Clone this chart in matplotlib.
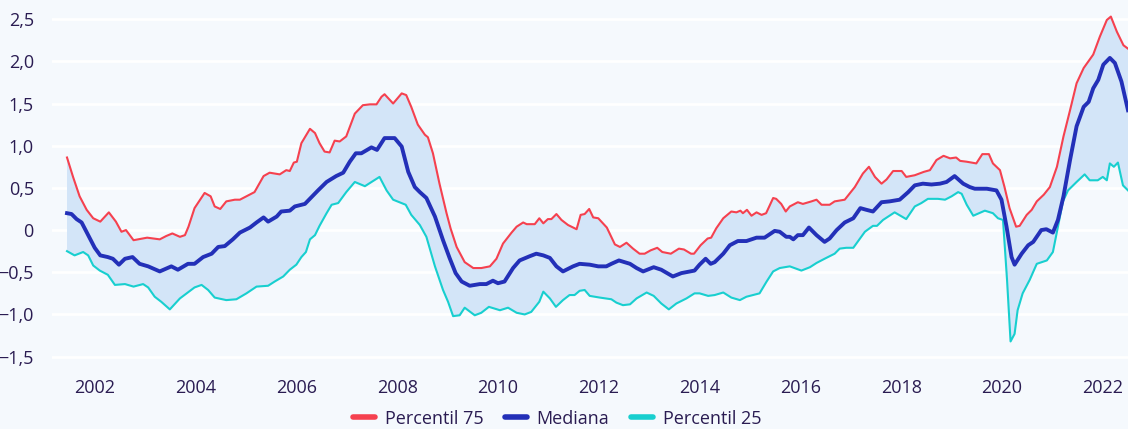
import matplotlib
matplotlib.use("Agg")
import matplotlib.pyplot as plt
import numpy as np

# time in decimal years
p75_t = [2001.45, 2001.57, 2001.70, 2001.84, 2001.97, 2002.11, 2002.28, 2002.42, 2002.53, 2002.62,
         2002.77, 2003.04, 2003.29, 2003.42, 2003.54, 2003.69, 2003.79, 2003.86, 2003.98, 2004.18,
         2004.30, 2004.38, 2004.49, 2004.61, 2004.78, 2004.88, 2005.01, 2005.17, 2005.35, 2005.47,
         2005.67, 2005.80, 2005.87, 2005.95, 2006.01, 2006.10, 2006.27, 2006.37, 2006.46, 2006.56,
         2006.66, 2006.76, 2006.86, 2006.99, 2007.16, 2007.32, 2007.46, 2007.59, 2007.69, 2007.75,
         2007.92, 2008.09, 2008.18, 2008.28, 2008.41, 2008.55, 2008.61, 2008.71, 2008.84, 2008.98,
         2009.06, 2009.18, 2009.34, 2009.51, 2009.67, 2009.84, 2009.97, 2010.10, 2010.27, 2010.37,
         2010.50, 2010.57, 2010.73, 2010.82, 2010.90, 2010.99, 2011.06, 2011.16, 2011.26, 2011.39,
         2011.56, 2011.64, 2011.72, 2011.81, 2011.89, 2011.99, 2012.16, 2012.32, 2012.42, 2012.55,
         2012.68, 2012.81, 2012.91, 2013.03, 2013.16, 2013.26, 2013.43, 2013.59, 2013.69, 2013.83,
         2013.89, 2014.02, 2014.16, 2014.23, 2014.33, 2014.47, 2014.63, 2014.73, 2014.81, 2014.86,
         2014.94, 2015.03, 2015.13, 2015.23, 2015.32, 2015.46, 2015.52, 2015.62, 2015.71, 2015.79,
         2015.95, 2016.05, 2016.22, 2016.32, 2016.42, 2016.58, 2016.68, 2016.88, 2017.08, 2017.24,
         2017.36, 2017.48, 2017.61, 2017.71, 2017.84, 2018.01, 2018.10, 2018.27, 2018.45, 2018.57,
         2018.70, 2018.84, 2018.97, 2019.09, 2019.17, 2019.30, 2019.49, 2019.61, 2019.74, 2019.82,
         2019.96, 2020.05, 2020.15, 2020.28, 2020.35, 2020.49, 2020.59, 2020.69, 2020.83, 2020.95,
         2021.09, 2021.22, 2021.35, 2021.48, 2021.62, 2021.81, 2021.94, 2022.08, 2022.16, 2022.28,
         2022.41, 2022.50]
p75 = [0.86, 0.63, 0.40, 0.24, 0.14, 0.10, 0.21, 0.10, -0.02, 0.00,
       -0.12, -0.09, -0.11, -0.07, -0.04, -0.08, -0.06, 0.04, 0.26, 0.44,
       0.40, 0.28, 0.25, 0.34, 0.36, 0.36, 0.40, 0.45, 0.64, 0.68,
       0.66, 0.71, 0.70, 0.80, 0.81, 1.03, 1.20, 1.15, 1.03, 0.93,
       0.92, 1.06, 1.05, 1.11, 1.38, 1.48, 1.49, 1.49, 1.58, 1.61,
       1.50, 1.62, 1.60, 1.46, 1.25, 1.13, 1.10, 0.91, 0.55, 0.20,
       0.02, -0.20, -0.38, -0.45, -0.45, -0.43, -0.34, -0.16, -0.03, 0.04,
       0.09, 0.07, 0.07, 0.14, 0.08, 0.13, 0.13, 0.19, 0.12, 0.06,
       0.01, 0.18, 0.19, 0.25, 0.15, 0.14, 0.03, -0.17, -0.20, -0.15,
       -0.22, -0.28, -0.28, -0.24, -0.21, -0.26, -0.28, -0.22, -0.23, -0.28,
       -0.28, -0.18, -0.10, -0.09, 0.02, 0.14, 0.22, 0.21, 0.23, 0.20,
       0.24, 0.17, 0.21, 0.18, 0.20, 0.38, 0.37, 0.31, 0.22, 0.28,
       0.33, 0.31, 0.34, 0.36, 0.30, 0.30, 0.34, 0.36, 0.51, 0.67,
       0.75, 0.63, 0.55, 0.60, 0.70, 0.70, 0.63, 0.65, 0.69, 0.71,
       0.83, 0.88, 0.85, 0.86, 0.82, 0.81, 0.79, 0.90, 0.90, 0.79,
       0.71, 0.51, 0.26, 0.04, 0.05, 0.18, 0.24, 0.34, 0.42, 0.51,
       0.75, 1.11, 1.42, 1.74, 1.92, 2.08, 2.29, 2.49, 2.53, 2.35,
       2.19, 2.15]

med_t = [2001.45, 2001.54, 2001.64, 2001.74, 2001.87, 2002.00, 2002.11, 2002.26, 2002.36, 2002.48,
         2002.60, 2002.75, 2002.89, 2003.06, 2003.29, 2003.52, 2003.65, 2003.85, 2003.98, 2004.15,
         2004.32, 2004.45, 2004.58, 2004.74, 2004.88, 2005.08, 2005.21, 2005.35, 2005.44, 2005.61,
         2005.70, 2005.87, 2005.97, 2006.17, 2006.30, 2006.43, 2006.60, 2006.79, 2006.93, 2007.06,
         2007.18, 2007.29, 2007.49, 2007.60, 2007.75, 2007.95, 2008.09, 2008.22, 2008.35, 2008.45,
         2008.58, 2008.75, 2008.91, 2009.04, 2009.16, 2009.28, 2009.44, 2009.64, 2009.77, 2009.90,
         2010.00, 2010.13, 2010.30, 2010.43, 2010.63, 2010.76, 2010.90, 2011.03, 2011.16, 2011.29,
         2011.49, 2011.62, 2011.82, 2011.99, 2012.15, 2012.25, 2012.40, 2012.62, 2012.75, 2012.88,
         2013.09, 2013.24, 2013.47, 2013.64, 2013.81, 2013.90, 2014.00, 2014.12, 2014.22, 2014.30,
         2014.47, 2014.60, 2014.76, 2014.93, 2015.13, 2015.29, 2015.49, 2015.59, 2015.72, 2015.79,
         2015.86, 2015.95, 2016.05, 2016.17, 2016.32, 2016.48, 2016.58, 2016.72, 2016.88, 2017.05,
         2017.19, 2017.31, 2017.44, 2017.61, 2017.77, 2017.97, 2018.14, 2018.27, 2018.43, 2018.60,
         2018.77, 2018.90, 2019.06, 2019.23, 2019.36, 2019.46, 2019.70, 2019.89, 2019.99, 2020.09,
         2020.19, 2020.25, 2020.39, 2020.52, 2020.62, 2020.78, 2020.88, 2021.01, 2021.11, 2021.22,
         2021.35, 2021.48, 2021.62, 2021.72, 2021.81, 2021.91, 2022.01, 2022.14, 2022.24, 2022.37,
         2022.50]
med = [0.20, 0.19, 0.13, 0.09, -0.06, -0.21, -0.30, -0.32, -0.34, -0.41,
       -0.34, -0.32, -0.40, -0.43, -0.49, -0.43, -0.47, -0.40, -0.40, -0.32,
       -0.28, -0.20, -0.19, -0.11, -0.03, 0.03, 0.09, 0.15, 0.10, 0.16,
       0.22, 0.23, 0.28, 0.31, 0.39, 0.47, 0.57, 0.64, 0.68, 0.81,
       0.91, 0.91, 0.98, 0.95, 1.09, 1.09, 0.99, 0.69, 0.51, 0.45,
       0.38, 0.16, -0.12, -0.33, -0.51, -0.61, -0.66, -0.64, -0.64, -0.60,
       -0.63, -0.61, -0.45, -0.36, -0.31, -0.28, -0.30, -0.33, -0.43, -0.49,
       -0.43, -0.40, -0.41, -0.43, -0.43, -0.40, -0.36, -0.40, -0.45, -0.49,
       -0.44, -0.47, -0.55, -0.51, -0.49, -0.48, -0.41, -0.34, -0.40, -0.38,
       -0.28, -0.18, -0.13, -0.13, -0.09, -0.09, -0.01, -0.02, -0.08, -0.08,
       -0.11, -0.06, -0.06, 0.03, -0.06, -0.14, -0.10, 0.00, 0.09, 0.14,
       0.26, 0.24, 0.22, 0.33, 0.34, 0.36, 0.45, 0.53, 0.55, 0.54,
       0.55, 0.57, 0.64, 0.55, 0.51, 0.49, 0.49, 0.47, 0.36, 0.04,
       -0.32, -0.41, -0.28, -0.18, -0.14, 0.00, 0.01, -0.03, 0.12, 0.40,
       0.83, 1.23, 1.46, 1.52, 1.68, 1.78, 1.96, 2.04, 1.98, 1.76,
       1.42]

p25_t = [2001.45, 2001.60, 2001.77, 2001.87, 2001.97, 2002.10, 2002.26, 2002.40, 2002.60, 2002.77,
         2002.96, 2003.06, 2003.19, 2003.32, 2003.49, 2003.69, 2003.98, 2004.12, 2004.25, 2004.38,
         2004.61, 2004.81, 2005.01, 2005.21, 2005.44, 2005.57, 2005.74, 2005.87, 2006.00, 2006.10,
         2006.19, 2006.27, 2006.37, 2006.46, 2006.60, 2006.70, 2006.83, 2006.99, 2007.16, 2007.36,
         2007.49, 2007.65, 2007.79, 2007.92, 2008.09, 2008.17, 2008.28, 2008.45, 2008.58, 2008.75,
         2008.91, 2009.01, 2009.11, 2009.24, 2009.34, 2009.54, 2009.67, 2009.82, 2010.04, 2010.20,
         2010.37, 2010.53, 2010.66, 2010.82, 2010.90, 2011.03, 2011.15, 2011.29, 2011.42, 2011.52,
         2011.62, 2011.72, 2011.82, 2012.02, 2012.25, 2012.35, 2012.48, 2012.62, 2012.75, 2012.95,
         2013.09, 2013.24, 2013.39, 2013.54, 2013.74, 2013.90, 2014.00, 2014.17, 2014.30, 2014.47,
         2014.63, 2014.80, 2014.93, 2015.06, 2015.19, 2015.33, 2015.46, 2015.59, 2015.79, 2016.02,
         2016.19, 2016.32, 2016.48, 2016.68, 2016.78, 2016.91, 2017.05, 2017.28, 2017.44, 2017.52,
         2017.64, 2017.87, 2018.10, 2018.27, 2018.40, 2018.53, 2018.73, 2018.87, 2019.00, 2019.13,
         2019.20, 2019.30, 2019.43, 2019.66, 2019.82, 2019.92, 2020.02, 2020.10, 2020.17, 2020.25,
         2020.31, 2020.41, 2020.55, 2020.69, 2020.79, 2020.89, 2021.01, 2021.11, 2021.21, 2021.31,
         2021.48, 2021.64, 2021.74, 2021.90, 2022.00, 2022.08, 2022.14, 2022.22, 2022.30, 2022.40,
         2022.50]
p25 = [-0.25, -0.30, -0.26, -0.30, -0.42, -0.48, -0.53, -0.65, -0.64, -0.67,
       -0.64, -0.68, -0.79, -0.85, -0.94, -0.81, -0.68, -0.65, -0.71, -0.80,
       -0.83, -0.82, -0.75, -0.67, -0.66, -0.61, -0.55, -0.47, -0.41, -0.32,
       -0.26, -0.11, -0.06, 0.05, 0.20, 0.30, 0.32, 0.45, 0.57, 0.52,
       0.57, 0.63, 0.47, 0.36, 0.32, 0.30, 0.18, 0.06, -0.08, -0.43,
       -0.71, -0.85, -1.02, -1.01, -0.92, -1.01, -0.98, -0.91, -0.95, -0.92,
       -0.98, -1.00, -0.97, -0.85, -0.73, -0.81, -0.91, -0.83, -0.77, -0.77,
       -0.72, -0.71, -0.78, -0.80, -0.82, -0.86, -0.89, -0.88, -0.81, -0.74,
       -0.78, -0.87, -0.94, -0.87, -0.81, -0.75, -0.75, -0.78, -0.77, -0.74,
       -0.80, -0.83, -0.79, -0.77, -0.75, -0.61, -0.49, -0.45, -0.43, -0.48,
       -0.44, -0.39, -0.34, -0.28, -0.22, -0.21, -0.21, -0.02, 0.05, 0.05,
       0.12, 0.21, 0.13, 0.28, 0.32, 0.37, 0.37, 0.36, 0.40, 0.45,
       0.43, 0.30, 0.17, 0.23, 0.20, 0.14, 0.12, -0.59, -1.32, -1.23,
       -0.95, -0.75, -0.59, -0.40, -0.38, -0.36, -0.26, 0.04, 0.34, 0.47,
       0.57, 0.66, 0.59, 0.59, 0.63, 0.59, 0.79, 0.75, 0.80, 0.53,
       0.47]

yticks = [-1.5, -1.0, -0.5, 0, 0.5, 1.0, 1.5, 2.0, 2.5]
ylabels = ["\u22121,5", "\u22121,0", "\u22120,5", "0", "0,5", "1,0", "1,5", "2,0", "2,5"]
years = [2002, 2004, 2006, 2008, 2010, 2012, 2014, 2016, 2018, 2020, 2022]

BG = "#f5f9fd"
TXT = "#2a1c52"
RED = "#f5414f"
BLUE = "#2330b8"
CYAN = "#18cfcf"
FILL = "#d3e5f8"

plt.rcParams["font.family"] = ["Open Sans", "DejaVu Sans"]

fig = plt.figure(figsize=(11.28, 4.29), dpi=100, facecolor=BG)
ax = fig.add_axes([0.046, 0.149, 0.954, 0.832], facecolor=BG)

# band between percentiles
ax.fill(np.concatenate([p75_t, p25_t[::-1]]), np.concatenate([p75, p25[::-1]]),
        color=FILL, lw=0, zorder=1)
ax.plot(p75_t, p75, color=RED, lw=1.5, label="Percentil 75", zorder=3)
ax.plot(med_t, med, color=BLUE, lw=2.8, label="Mediana", zorder=4)
ax.plot(p25_t, p25, color=CYAN, lw=1.5, label="Percentil 25", zorder=3)

ax.set_xlim(2001.15, 2022.5)
ax.set_ylim(-1.6, 2.63)
ax.set_yticks(yticks, ylabels)
ax.set_xticks(years, [str(y) for y in years])
ax.grid(axis="y", color="white", lw=2, zorder=0)
ax.set_axisbelow(True)
for s in ax.spines.values():
    s.set_visible(False)
ax.tick_params(length=0, labelsize=13, colors=TXT, pad=10)
ax.tick_params(axis="y", pad=13)

leg = fig.legend(loc="lower center", bbox_to_anchor=(0.494, -0.035), ncol=3, frameon=False,
                 fontsize=13, handlelength=1.2, columnspacing=1.2, handletextpad=0.55)
for h in leg.get_lines():
    h.set_linewidth(4)
    h.set_solid_capstyle("round")
for t in leg.get_texts():
    t.set_color(TXT)

fig.savefig("out.png", dpi=100, facecolor=BG)
